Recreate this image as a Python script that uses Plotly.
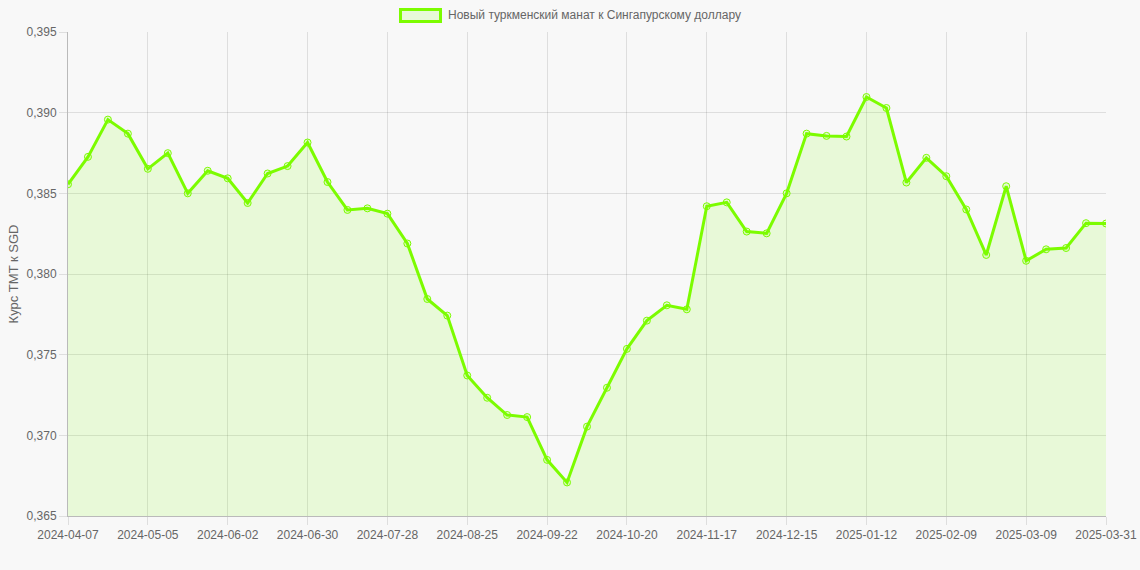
import plotly.graph_objects as go

dates = [
    "2024-04-07", "2024-04-14", "2024-04-21", "2024-04-28",
    "2024-05-05", "2024-05-12", "2024-05-19", "2024-05-26",
    "2024-06-02", "2024-06-09", "2024-06-16", "2024-06-23",
    "2024-06-30", "2024-07-07", "2024-07-14", "2024-07-21",
    "2024-07-28", "2024-08-04", "2024-08-11", "2024-08-18",
    "2024-08-25", "2024-09-01", "2024-09-08", "2024-09-15",
    "2024-09-22", "2024-09-29", "2024-10-06", "2024-10-13",
    "2024-10-20", "2024-10-27", "2024-11-03", "2024-11-10",
    "2024-11-17", "2024-11-24", "2024-12-01", "2024-12-08",
    "2024-12-15", "2024-12-22", "2024-12-29", "2025-01-05",
    "2025-01-12", "2025-01-19", "2025-01-26", "2025-02-02",
    "2025-02-09", "2025-02-16", "2025-02-23", "2025-03-02",
    "2025-03-09", "2025-03-16", "2025-03-23", "2025-03-30",
    "2025-03-31",
]

rates = [
    0.38556, 0.38726, 0.38957, 0.38870, 0.38652, 0.38749, 0.38500, 0.38640,
    0.38593, 0.38440, 0.38623, 0.38669, 0.38815, 0.38570, 0.38397, 0.38407,
    0.38374, 0.38189, 0.37845, 0.37742, 0.37371, 0.37233, 0.37126, 0.37113,
    0.36848, 0.36708, 0.37054, 0.37295, 0.37536, 0.37711, 0.37806, 0.37781,
    0.38420, 0.38444, 0.38263, 0.38252, 0.38500, 0.38870, 0.38856, 0.38852,
    0.39097, 0.39029, 0.38567, 0.38720, 0.38606, 0.38400, 0.38118, 0.38544,
    0.38082, 0.38153, 0.38161, 0.38315, 0.38313,
]

series_name = "Новый туркменский манат к Сингапурскому доллару"
y_title = "Курс TMT к SGD"

tick_dates = dates[::4] + [dates[-1]]
y_ticks = [0.365, 0.370, 0.375, 0.380, 0.385, 0.390, 0.395]

LINE = "#7cfc00"
FILL = "rgba(124,252,0,0.13)"
GRID = "rgba(0,0,0,0.1)"
TXT = "#666666"
BG = "#f8f8f8"
FONT = "Liberation Sans, Arial, Helvetica, sans-serif"

fig = go.Figure()
fig.add_trace(go.Scatter(
    x=dates, y=rates, mode="lines+markers", name=series_name,
    line=dict(color=LINE, width=3),
    fill="tozeroy", fillcolor=FILL,
    marker=dict(size=7, color=FILL, line=dict(color=LINE, width=1)),
    showlegend=False,
))

# the page body margin is removed (post_script), so the figure fills the
# 1140x570 window and the plot area lands at x 68..1106, y 32..516
W, H = 1140, 570
L, T = 68, 32
pw, ph = 1038, 484
R, B = W - L - pw, H - T - ph

def px(xp):
    return (xp - L) / pw

def py(yp):
    return (T + ph - yp) / ph

fig.add_shape(type="rect", xref="paper", yref="paper",
              x0=px(400.5), x1=px(440.5), y0=py(21.5), y1=py(9.5),
              line=dict(color=LINE, width=3), fillcolor=FILL)
fig.add_annotation(xref="paper", yref="paper", x=px(446), y=py(15.5),
                   text=series_name, showarrow=False, xanchor="left",
                   yanchor="middle", font=dict(size=12, color=TXT, family=FONT))

fig.update_layout(
    width=W, height=H,
    margin=dict(l=L, r=R, t=T, b=B, pad=0, autoexpand=False),
    paper_bgcolor=BG, plot_bgcolor=BG,
    separators=", ",
    font=dict(family=FONT, size=12, color=TXT),
    hovermode=False,
)
fig.update_xaxes(
    type="category", range=[0, len(dates) - 1], automargin=False,
    tickmode="array", tickvals=tick_dates, ticktext=tick_dates,
    showgrid=True, gridcolor=GRID, gridwidth=1,
    ticks="outside", ticklen=8, tickcolor=GRID,
    showline=True, linecolor="rgba(0,0,0,0.25)", linewidth=1,
    tickfont=dict(size=12, color=TXT), tickangle=0,
    zeroline=False,
)
fig.update_yaxes(
    range=[0.365, 0.395], tickmode="array", tickvals=y_ticks, automargin=False,
    tickformat=".3f",
    showgrid=True, gridcolor=GRID, gridwidth=1,
    ticks="outside", ticklen=8, tickcolor=GRID,
    showline=True, linecolor="rgba(0,0,0,0.25)", linewidth=1,
    tickfont=dict(size=12, color=TXT),
    title=dict(text=y_title, font=dict(size=13, color=TXT), standoff=5),
    zeroline=False,
)

fig.write_html(
    "out.html",
    config={"displayModeBar": False, "staticPlot": True},
    post_script=("document.body.style.margin='0';"
                 "document.body.style.overflow='hidden';"
                 "document.body.style.background='%s';" % BG),
)
